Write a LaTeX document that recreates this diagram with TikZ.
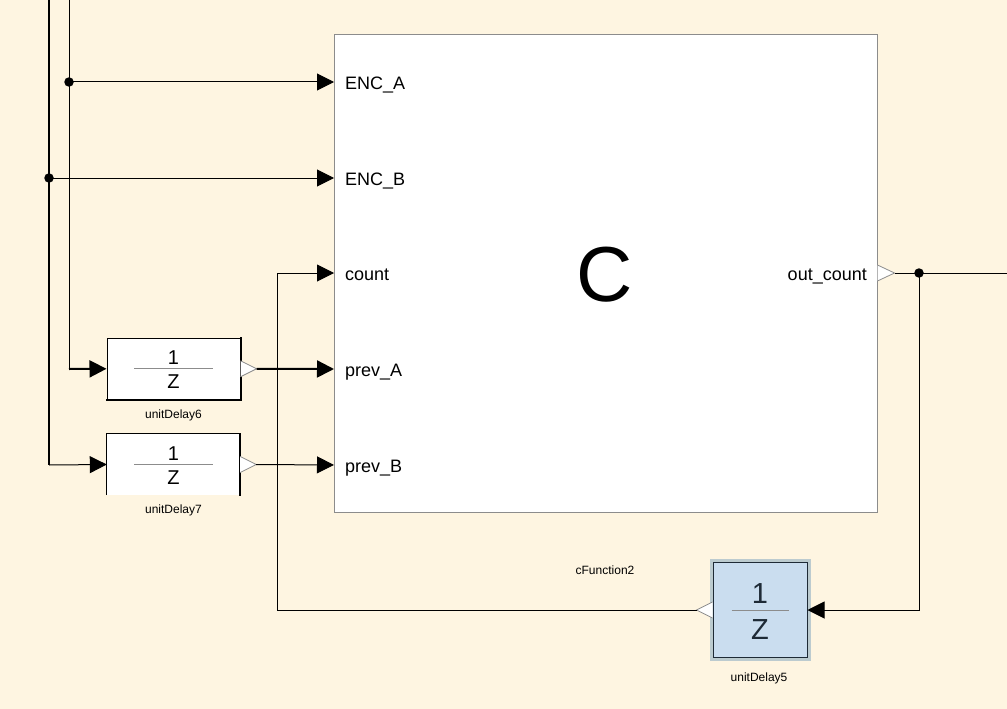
\documentclass[tikz,border=0pt]{standalone}
\usepackage{fontspec}
\setmainfont{Liberation Sans}
\usepackage{xcolor}
\usepackage{tikz}
\usetikzlibrary{arrows.meta, positioning, calc}
\definecolor{canvas}{HTML}{FEF5E1}
\definecolor{frame}{HTML}{8C8C8C}
\definecolor{delayblue}{HTML}{CADDEF}
\definecolor{delayhalo}{HTML}{BCCBCF}
\definecolor{delayedge}{HTML}{1E2A36}
\tikzset{
  cblock/.style={rectangle, draw=frame, fill=white, line width=1pt, minimum width=543pt, minimum height=477pt, inner sep=0pt},
  delaybox/.style={rectangle, draw=black, fill=white, line width=1pt, minimum width=133pt, minimum height=61pt, inner sep=0pt},
  delayfill/.style={rectangle, fill=white, minimum width=133pt, minimum height=61pt, inner sep=0pt},
  delaybig/.style={rectangle, draw=delayedge, fill=delayblue, line width=1pt, minimum width=94pt, minimum height=95pt, inner sep=0pt, preaction={draw=delayhalo, line width=7pt}},
  dropedge/.style={line width=2pt, line cap=rect},
  fracbar/.style={draw=frame, line width=1pt},
  dnum/.style={font=\fontsize{20}{22}\selectfont, inner sep=0pt},
  dnumbig/.style={font=\fontsize{29}{31}\selectfont, text=delayedge, inner sep=0pt},
  portlab/.style={font=\fontsize{18}{21}\selectfont, inner sep=0pt},
  smalllab/.style={font=\fontsize{12}{14}\selectfont, inner sep=0pt},
  bigC/.style={font=\fontsize{78}{80}\selectfont, inner sep=0pt},
  portmark/.style={draw=frame, fill=white, line width=0.8pt, line join=miter},
  tap/.style={circle, fill=black, inner sep=0pt, minimum size=9.5pt},
  wire/.style={line width=1pt},
  wirethick/.style={line width=2pt},
  sig/.style={line width=1pt, -{Triangle[length=17pt, width=17pt]}},
  sigthick/.style={sig, line width=2pt},
}
\begin{document}
\begin{tikzpicture}[x=1pt, y=-1pt]
  \fill[canvas] (0,0) rectangle (1007,709);
  \useasboundingbox (0,0) rectangle (1007,709);

  % C function block
  \node[cblock] (cfun) at (605.5,273.5) {};
  \node[bigC] (cmark) at (605,275) {C};
  \node[smalllab, anchor=base] (cname) at (605,574) {cFunction2};

  \coordinate (pEA) at (334,82);
  \coordinate (pEB) at (334,178);
  \coordinate (pCnt) at (334,273);
  \coordinate (pPA) at (334,369);
  \coordinate (pPB) at (334,465);
  \node[portlab, anchor=base west] (lEA) at (345,89) {ENC\_A};
  \node[portlab, anchor=base west] (lEB) at (345,185) {ENC\_B};
  \node[portlab, anchor=base west] (lCnt) at (345,280) {count};
  \node[portlab, anchor=base west] (lPA) at (345,376) {prev\_A};
  \node[portlab, anchor=base west] (lPB) at (345,472) {prev\_B};
  \node[portlab, anchor=base east] (lOut) at (867,280) {out\_count};
  \filldraw[portmark] ([yshift=8pt]cfun.east |- pCnt) -- ([xshift=17pt]cfun.east |- pCnt) -- ([yshift=-8pt]cfun.east |- pCnt);
  \coordinate (cOut) at ([xshift=17pt]cfun.east |- pCnt);

  % unit delays
  \node[delaybox] (d6) at (173.5,368.8) {};
  \draw[fracbar] ([xshift=-39.5pt]d6.center) -- ([xshift=39.5pt]d6.center);
  \node[dnum, anchor=base] (d6n) at ([yshift=4.8pt]d6.center) {1};
  \node[dnum, anchor=base] (d6d) at ([yshift=-19.2pt]d6.center) {Z};
  \draw[dropedge] (d6.north east) -- (d6.south east) -- (d6.south west);
  \node[smalllab, anchor=base] (d6name) at (173.5,418) {unitDelay6};
  \filldraw[portmark] ([yshift=8pt]d6.east) -- ([xshift=16pt]d6.east) -- ([yshift=-8pt]d6.east);
  \coordinate (d6o) at ([xshift=16pt]d6.east);

  \node[delayfill] (d7) at (173.5,464.5) {};
  \draw[fracbar] ([xshift=-39.5pt]d7.center) -- ([xshift=39.5pt]d7.center);
  \node[dnum, anchor=base] (d7n) at ([yshift=4.5pt]d7.center) {1};
  \node[dnum, anchor=base] (d7d) at ([yshift=-19.5pt]d7.center) {Z};
  \draw[wire] (d7.south west) -- (d7.north west) -- (d7.north east);
  \draw[dropedge] (d7.north east) -- (d7.south east);
  \node[smalllab, anchor=base] (d7name) at (173.5,513.5) {unitDelay7};
  \filldraw[portmark] ([yshift=8pt]d7.east) -- ([xshift=16pt]d7.east) -- ([yshift=-8pt]d7.east);
  \coordinate (d7o) at ([xshift=16pt]d7.east);

  \node[delaybig] (d5) at (760,610) {};
  \draw[fracbar] ([xshift=-28.5pt]d5.center) -- ([xshift=28.5pt]d5.center);
  \node[dnumbig, anchor=base] (d5n) at ([yshift=7pt]d5.center) {1};
  \node[dnumbig, anchor=base] (d5d) at ([yshift=-29pt]d5.center) {Z};
  \node[smalllab, anchor=base] (d5name) at (759,681.5) {unitDelay5};
  \filldraw[portmark] ([yshift=8pt]d5.west) -- ([xshift=-16pt]d5.west) -- ([yshift=-8pt]d5.west);
  \coordinate (d5o) at ([xshift=-16pt]d5.west);

  % signal lines
  \coordinate (topA) at (69,0);
  \coordinate (topB) at (49,0);
  \coordinate (cnrA) at (69,369);
  \coordinate (cnrB) at (49,465);
  \coordinate (fbk) at (277,610);
  \coordinate (edgeR) at (1007,273);
  \node[tap] (jA) at (69,82) {};
  \node[tap] (jB) at (49,178) {};
  \node[tap] (jO) at (919,273) {};

  \draw[wire] (topA) -- (cnrA);
  \draw[wirethick] (topB) -- (cnrB);
  \draw[sig] (jA.center) -- (pEA);
  \draw[sig] (jB.center) -- (pEB);
  \draw[sigthick] (cnrA) -- (d6.west);
  \draw[sig] (cnrB) -- (d7.west);
  \draw[sigthick] (d6o) -- (pPA);
  \draw[sig] (d7o) -- (pPB);
  \draw[wire] (cOut) -- (edgeR);
  \draw[sig] (jO.center) |- (d5.east);
  \draw[sig] (d5o) -- (fbk) |- (pCnt);
\end{tikzpicture}
\end{document}
